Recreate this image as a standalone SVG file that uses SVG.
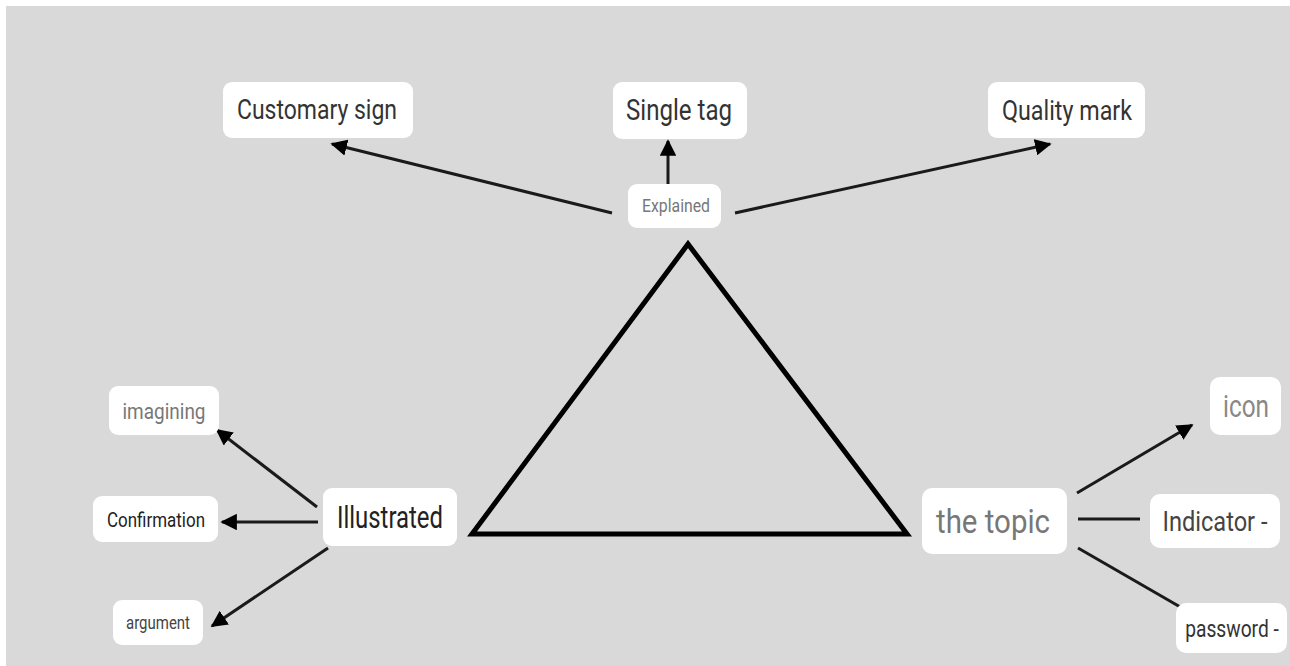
<svg xmlns="http://www.w3.org/2000/svg" width="1290" height="666" viewBox="0 0 1290 666">
<defs>
<style>
.box{fill:#ffffff;}
.t{font-family:Roboto,"Liberation Sans",sans-serif;text-anchor:middle;}
.ln{stroke:#1a1a1a;stroke-width:3;fill:none;}
</style>
<marker id="ah" viewBox="0 0 10 10" refX="9" refY="5" markerWidth="5.5" markerHeight="5.5" markerUnits="strokeWidth" orient="auto">
<path d="M0,0 L10,5 L0,10 z" fill="#000"/>
</marker>
</defs>
<rect x="0" y="0" width="1290" height="666" fill="#ffffff"/>
<rect x="6" y="6" width="1284" height="660" fill="#d9d9d9"/>
<g id="triangle"><polygon points="688,244 472,534 907,534" fill="none" stroke="#000" stroke-width="5" stroke-linejoin="miter"/></g>
<g id="connectors">
<line class="ln" x1="612" y1="213" x2="332" y2="144" marker-end="url(#ah)"/>
<line class="ln" x1="668" y1="184" x2="668" y2="141" marker-end="url(#ah)"/>
<line class="ln" x1="735" y1="213" x2="1050" y2="144" marker-end="url(#ah)"/>
<line class="ln" x1="317" y1="507" x2="217" y2="430" marker-end="url(#ah)"/>
<line class="ln" x1="318" y1="522" x2="222" y2="522" marker-end="url(#ah)"/>
<line class="ln" x1="328" y1="548" x2="212" y2="626" marker-end="url(#ah)"/>
<line class="ln" x1="1077" y1="493" x2="1192" y2="425" marker-end="url(#ah)"/>
<line class="ln" x1="1078" y1="519" x2="1140" y2="519"/>
<line class="ln" x1="1078" y1="548" x2="1182" y2="608"/>
</g>
<g id="customary-sign"><rect class="box" x="223" y="82" width="190" height="56" rx="9"/><text class="t" x="317" y="119" font-size="28" fill="#333" textLength="160" lengthAdjust="spacingAndGlyphs">Customary sign</text></g>
<g id="single-tag"><rect class="box" x="613" y="82" width="134" height="57" rx="9"/><text class="t" x="679" y="120" font-size="29" fill="#333" textLength="106" lengthAdjust="spacingAndGlyphs">Single tag</text></g>
<g id="quality-mark"><rect class="box" x="988" y="82" width="157" height="56" rx="9"/><text class="t" x="1067" y="120" font-size="28" fill="#333" textLength="130" lengthAdjust="spacingAndGlyphs">Quality mark</text></g>
<g id="explained"><rect class="box" x="628" y="184" width="93" height="44" rx="9"/><text class="t" x="676" y="212" font-size="18" fill="#777" textLength="68" lengthAdjust="spacingAndGlyphs">Explained</text></g>
<g id="illustrated"><rect class="box" x="323" y="488" width="134" height="58" rx="9"/><text class="t" x="390" y="528" font-size="31" fill="#222" textLength="106" lengthAdjust="spacingAndGlyphs">Illustrated</text></g>
<g id="imagining"><rect class="box" x="109" y="386" width="110" height="49" rx="9"/><text class="t" x="164" y="419" font-size="22" fill="#777" textLength="83" lengthAdjust="spacingAndGlyphs">imagining</text></g>
<g id="confirmation"><rect class="box" x="93" y="496" width="125" height="46" rx="9"/><text class="t" x="156" y="527" font-size="21" fill="#222" textLength="98" lengthAdjust="spacingAndGlyphs">Confirmation</text></g>
<g id="argument"><rect class="box" x="113" y="600" width="90" height="45" rx="9"/><text class="t" x="158" y="629" font-size="19" fill="#444" textLength="64" lengthAdjust="spacingAndGlyphs">argument</text></g>
<g id="the-topic"><rect class="box" x="922" y="488" width="145" height="66" rx="10"/><text class="t" x="993" y="533" font-size="34" fill="#777" textLength="114" lengthAdjust="spacingAndGlyphs">the topic</text></g>
<g id="icon"><rect class="box" x="1210" y="377" width="71" height="58" rx="10"/><text class="t" x="1246" y="417" font-size="32" fill="#888" textLength="46" lengthAdjust="spacingAndGlyphs">icon</text></g>
<g id="indicator"><rect class="box" x="1150" y="494" width="130" height="54" rx="10"/><text class="t" x="1215" y="531" font-size="27" fill="#444" textLength="105" lengthAdjust="spacingAndGlyphs">Indicator -</text></g>
<g id="password"><rect class="box" x="1176" y="603" width="111" height="50" rx="10"/><text class="t" transform="translate(1232,637) scale(0.8,1)" x="0" y="0" font-size="24" fill="#333">password -</text></g>
</svg>
